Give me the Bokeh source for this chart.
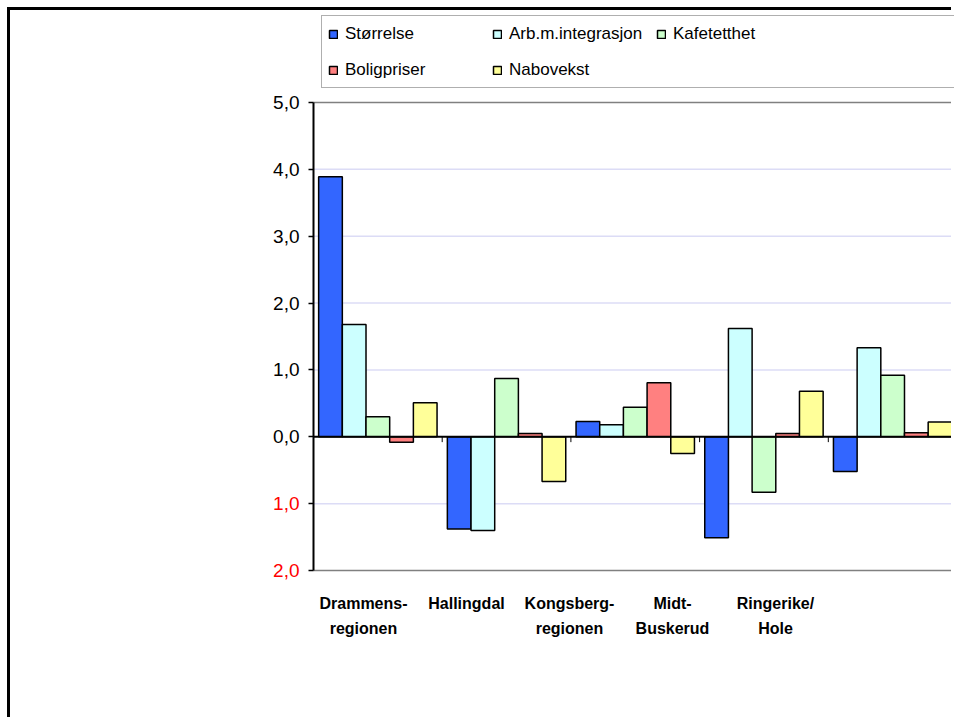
from bokeh.plotting import figure
from bokeh.models import (ColumnDataSource, Range1d, Legend, LegendItem, FixedTicker,
                          LabelSet, LinearAxis)
from bokeh.core.properties import value
from bokeh.transform import dodge
from bokeh.embed import file_html
from bokeh.resources import INLINE

regions_line1 = ["Drammens-", "Hallingdal", "Kongsberg-", "Midt-", "Ringerike/"]
regions_line2 = ["regionen", "", "regionen", "Buskerud", "Hole"]
series = ["Størrelse", "Arb.m.integrasjon", "Kafetetthet", "Boligpriser", "Nabovekst"]
storrelse = [3.89, -1.38, 0.23, -1.51, -0.52]
arb_integrasjon = [1.68, -1.40, 0.18, 1.62, 1.33]
kafetetthet = [0.30, 0.87, 0.44, -0.83, 0.92]
boligpriser = [-0.08, 0.05, 0.81, 0.05, 0.06]
nabovekst = [0.51, -0.67, -0.25, 0.68, 0.22]
colors = ["#3366FF", "#CCFFFF", "#CCFFCC", "#FF8080", "#FFFF99"]
pos_ticks = [0, 1, 2, 3, 4, 5]
pos_labels = ["0,0", "1,0", "2,0", "3,0", "4,0", "5,0"]
neg_ticks = [-1, -2]
neg_labels = ["1,0", "2,0"]
grid_ticks = [-1, 1, 2, 3, 4]
edge_ticks = [5, -2]

FONT = "Liberation Sans"

# layout in page pixels (frame spans from FRAME_L to PAGE_R; value axis sits at AXIS_X)
FRAME_L, AXIS_X, PAGE_R = 249, 313, 954
PITCH = 128.7          # px per category
LAB0, LAB_PITCH = 363, 103  # category label placement
OFFSET = 10            # margin 7 + border 3
PX_PER_UNIT = 66.857
EXTRA_BOTTOM = 12      # frame extends a little below -2 so the red label is not cut

x_start = -(AXIS_X - FRAME_L) / PITCH
x_end = (PAGE_R - AXIS_X) / PITCH
lab_start = 0.5 - (LAB0 - FRAME_L) / LAB_PITCH
lab_end = 0.5 + (PAGE_R - LAB0) / LAB_PITCH
y_start = -2 - EXTRA_BOTTOM / PX_PER_UNIT
y_end = 5 + 90 / PX_PER_UNIT

xs = [i + 0.5 for i in range(len(regions_line1))]
src = ColumnDataSource(dict(x=xs, s0=storrelse, s1=arb_integrasjon, s2=kafetetthet,
                            s3=boligpriser, s4=nabovekst))

p = figure(width=944, height=710, output_backend="svg", toolbar_location=None,
           x_range=Range1d(x_start, x_end), y_range=Range1d(y_start, y_end),
           min_border_left=FRAME_L - OFFSET, min_border_right=0, min_border_top=2,
           min_border_bottom=150 - EXTRA_BOTTOM)
p.extra_x_ranges = {"lab": Range1d(lab_start, lab_end)}
p.styles = {"margin-left": "7px", "margin-top": "7px",
            "border-left": "3px solid black", "border-top": "3px solid black"}
p.background_fill_color = "white"
p.border_fill_color = "white"
p.outline_line_color = None
p.xgrid.visible = False
p.ygrid.visible = False

# horizontal gridlines, only right of the value axis
gsrc = ColumnDataSource(dict(y=grid_ticks))
p.segment(x0=0, x1=x_end, y0="y", y1="y", source=gsrc, line_color="#DCDCF6", line_width=1.5)
esrc = ColumnDataSource(dict(y=edge_ticks))
p.segment(x0=0, x1=x_end, y0="y", y1="y", source=esrc, line_color="#808080", line_width=1.5)

bw = 0.184
items = []
for i, name in enumerate(series):
    r = p.vbar(x=dodge("x", (i - 2) * bw), top="s%d" % i, bottom=0, width=bw, source=src,
               fill_color=colors[i], line_color="black", line_width=1.5)
    items.append(LegendItem(label=name, renderers=[r]))

# zero line
p.segment(x0=0, x1=x_end, y0=0, y1=0, line_color="black", line_width=2)

# small category boundary ticks on the zero line
bsrc = ColumnDataSource(dict(x=[x + 0.5 for x in xs[:-1]]))
p.segment(x0="x", x1="x", y0=0, y1=-0.08, source=bsrc, line_color="black", line_width=1)

# invisible filler so the legend box runs on to the right like the original
blank = p.vbar(x=[], top=[], width=0.1, fill_alpha=0, line_alpha=0)
legend_items = items[:3] + [LegendItem(label=" ", renderers=[blank])] + items[3:]

legend = Legend(items=legend_items, orientation="horizontal", ncols=4,
                location=(321 - FRAME_L, 482 + EXTRA_BOTTOM), margin=0, padding=6, spacing=13,
                glyph_width=10, glyph_height=10, label_standoff=7,
                label_width=134, label_height=23,
                label_text_font=FONT, label_text_font_size="17px", label_text_color="black",
                border_line_color="#606060", border_line_width=1,
                background_fill_color="white", background_fill_alpha=1)
p.add_layout(legend, "center")

# y axis, drawn at x = 0
ya = p.yaxis[0]
ya.fixed_location = 0
ya.bounds = (-2, 5)
ya.ticker = FixedTicker(ticks=neg_ticks + pos_ticks)
ya.major_label_overrides = {**{t: l for t, l in zip(pos_ticks, pos_labels)},
                            **{t: "" for t in neg_ticks}}
ya.axis_line_color = "black"
ya.axis_line_width = 2
ya.major_tick_in = 0
ya.major_tick_out = 5
ya.major_tick_line_color = "black"
ya.major_tick_line_width = 1.5
ya.minor_tick_line_color = None
ya.major_label_text_font = FONT
ya.major_label_text_font_size = "19px"
ya.major_label_text_color = "black"
ya.major_label_standoff = 9

# red labels for the negative ticks
neg_src = ColumnDataSource(dict(y=neg_ticks, t=neg_labels))
p.add_layout(LabelSet(x=0, y="y", x_offset=-14, text="t", source=neg_src,
                      text_align="right", text_baseline="middle", text_color="#FF0000",
                      text_font=value(FONT), text_font_size="19px"))


# x axes: two stacked label rows
def style_x(ax, labels, standoff):
    ax.x_range_name = "lab"
    ax.ticker = FixedTicker(ticks=xs)
    ax.major_label_overrides = {x: l for x, l in zip(xs, labels)}
    ax.axis_line_color = None
    ax.major_tick_line_color = None
    ax.minor_tick_line_color = None
    ax.major_tick_in = 0
    ax.major_tick_out = 0
    ax.minor_tick_in = 0
    ax.minor_tick_out = 0
    ax.major_label_text_font = FONT
    ax.major_label_text_font_size = "16px"
    ax.major_label_text_font_style = "bold"
    ax.major_label_text_color = "black"
    ax.major_label_standoff = standoff


style_x(p.xaxis[0], regions_line1, 24 - EXTRA_BOTTOM)
xa2 = LinearAxis()
style_x(xa2, regions_line2, 5)
p.add_layout(xa2, "below")

open("out.html", "w").write(file_html(p, INLINE))
